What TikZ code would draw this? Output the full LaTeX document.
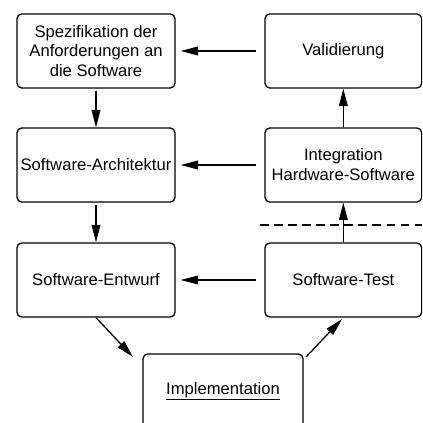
\documentclass[tikz,border=0pt]{standalone}
\usepackage{fontspec}
\setmainfont{Liberation Sans}
\usepackage{tikz}
\usetikzlibrary{arrows.meta}
\tikzstyle{box} = [draw, line width=1.1pt, rounded corners=4pt, minimum width=4.74cm, minimum height=2.22cm, align=center, inner sep=0pt, font=\fontsize{14.2}{17}\selectfont]
\tikzstyle{arrow} = [-{Triangle[length=15pt,width=7.5pt]}, line width=1.1pt]

\begin{document}
\begin{tikzpicture}
\useasboundingbox (0,0) rectangle (12.66,12.69);
\clip (0,0) rectangle (12.66,12.69);
\node[box] (spec) at (2.88,11.16) {Spezifikation der\\Anforderungen an\\die Software};
\node[box] (arch) at (2.88,7.74) {Software-Architektur};
\node[box] (entw) at (2.88,4.29) {Software-Entwurf};
\node[box, minimum width=4.7cm] (valid) at (10.3,11.16) {Validierung};
\node[box, minimum width=4.7cm] (integ) at (10.3,7.74) {Integration\\Hardware-Software};
\node[box, minimum width=4.7cm] (test) at (10.3,4.29) {Software-Test};
\node[box, minimum width=4.8cm] (impl) at (6.69,0.96) {\underline{Implementation}};
\coordinate (implL) at (3.99,1.98);
\coordinate (implR) at (9.18,1.98);
\draw[arrow, shorten <=0.06cm] (spec) -- (arch);
\draw[arrow, shorten <=0.06cm] (arch) -- (entw);
\draw[arrow] (entw.south) -- (implL);
\draw[arrow, shorten >=0.06cm] (implR) -- (test.south);
\draw[arrow] (test) -- (integ);
\draw[arrow] (integ) -- (valid);
\draw[arrow, shorten <=0.24cm, shorten >=0.15cm] (valid) -- (spec);
\draw[arrow, shorten <=0.24cm, shorten >=0.15cm] (integ) -- (arch);
\draw[arrow, shorten <=0.24cm, shorten >=0.15cm] (test) -- (entw);
\draw[dashed, line width=1.1pt, dash pattern=on 7.5pt off 4.5pt] (7.8,5.94) -- (12.66,5.94);
\end{tikzpicture}
\end{document}
